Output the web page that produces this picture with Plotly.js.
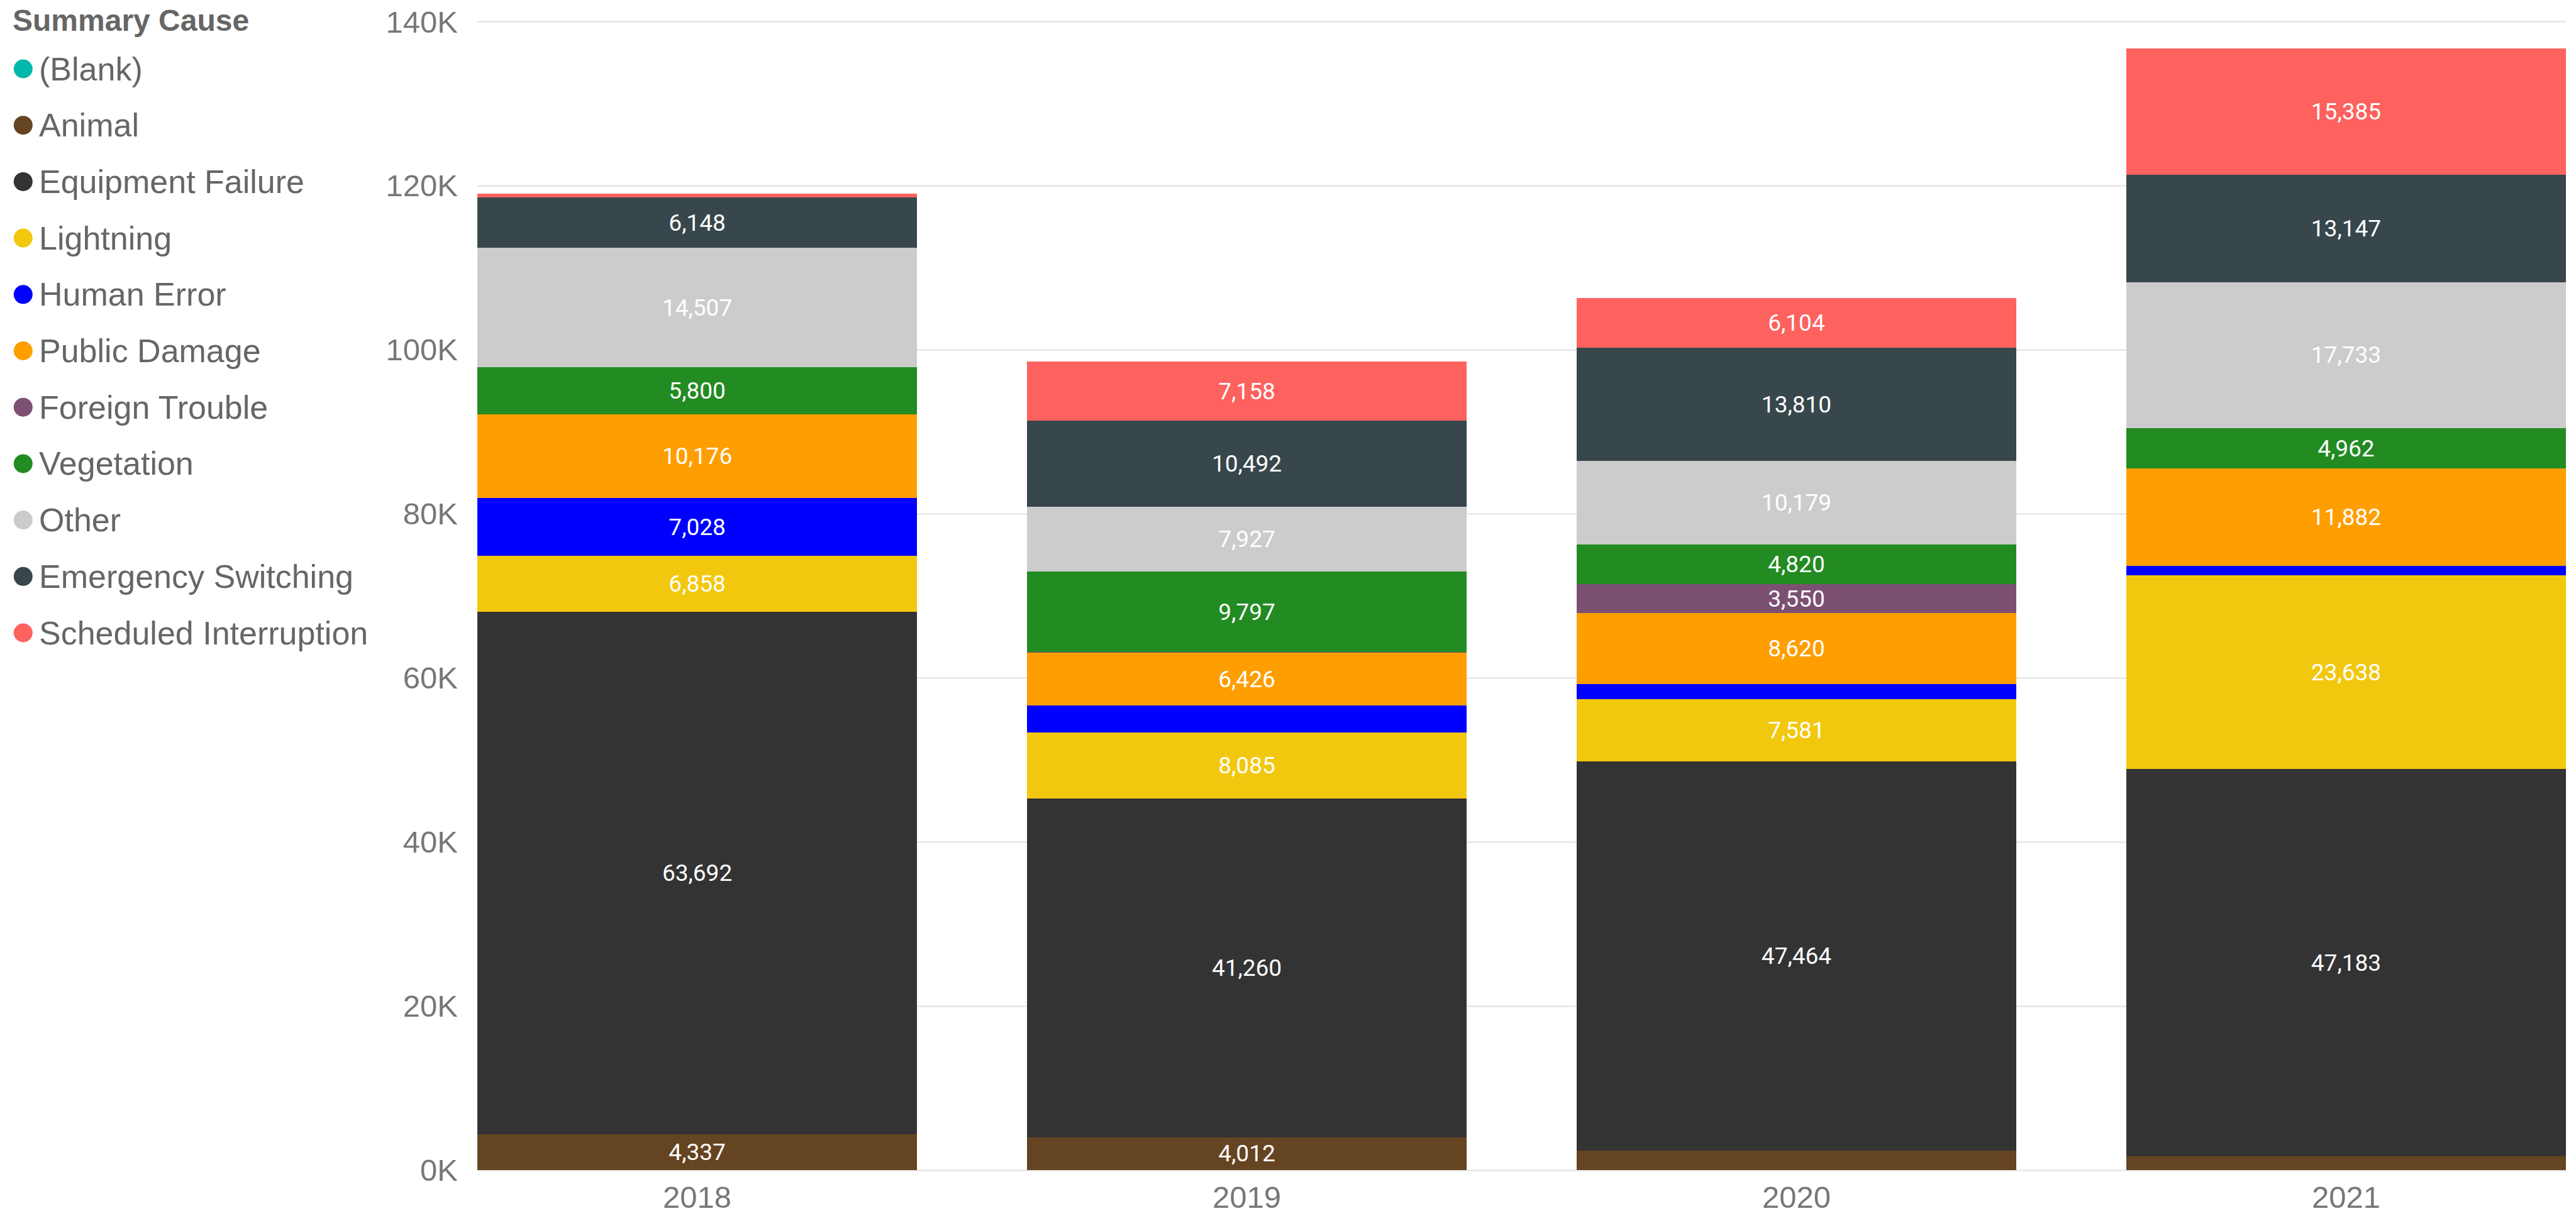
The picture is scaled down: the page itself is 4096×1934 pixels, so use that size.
<!DOCTYPE html>
<html>
<head>
<meta charset="utf-8">
<script src="https://cdn.plot.ly/plotly-3.0.1.min.js"></script>
<style>
html,body{margin:0;padding:0;background:#fff;}
#chart{width:4096px;height:1934px;}
</style>
</head>
<body>
<div id="chart"></div>
<script>
// ---- data ----
const years = ['2018', '2019', '2020', '2021'];
const causes = ['(Blank)', 'Animal', 'Equipment Failure', 'Lightning', 'Human Error', 'Public Damage',
  'Foreign Trouble', 'Vegetation', 'Other', 'Emergency Switching', 'Scheduled Interruption'];
const colors = ['#01B8AA', '#654422', '#333333', '#F2C80F', '#0000FF', '#FF9E00',
  '#7C5073', '#228B22', '#CCCCCC', '#37474B', '#FD625E'];
const blank = [0, 0, 0, 0];
const animal = [4337, 4012, 2370, 1697];
const equipmentFailure = [63692, 41260, 47464, 47183];
const lightning = [6858, 8085, 7581, 23638];
const humanError = [7028, 3273, 1839, 1103];
const publicDamage = [10176, 6426, 8620, 11882];
const foreignTrouble = [0, 100, 3550, 0];
const vegetation = [5800, 9797, 4820, 4962];
const other = [14507, 7927, 10179, 17733];
const emergencySwitching = [6148, 10492, 13810, 13147];
const scheduledInterruption = [480, 7158, 6104, 15385];
const seriesValues = [blank, animal, equipmentFailure, lightning, humanError, publicDamage,
  foreignTrouble, vegetation, other, emergencySwitching, scheduledInterruption];
const yTickVals = [0, 20000, 40000, 60000, 80000, 100000, 120000, 140000];
const yTickText = ['0K', '20K', '40K', '60K', '80K', '100K', '120K', '140K'];
const legendTitle = 'Summary Cause';
const labelMin = 3400; // labels hidden on thin segments, as in the reference

// ---- layout geometry (pixels in the 4096x1934 window) ----
const W = 4096, H = 1934;
const M = {l: 759, r: 16, t: 32, b: 73};
const fmt = v => v.toLocaleString('en-US');

const traces = causes.map((c, i) => ({
  type: 'bar',
  name: c,
  x: years,
  y: seriesValues[i],
  marker: {color: colors[i], line: {width: 0}},
  text: seriesValues[i].map(v => v >= labelMin ? fmt(v) : ''),
  textposition: 'inside',
  insidetextanchor: 'middle',
  textangle: 0,
  constraintext: 'none',
  textfont: {family: 'Roboto, sans-serif', size: 37, color: '#FFFFFF'},
  hoverinfo: 'skip',
  showlegend: false
}));

// custom legend (round markers as in the reference)
const annotations = [];
const shapes = [];
const legX0 = 17.6, markerCX = 36.8, textX = 60, firstY = 109.5, stepY = 89.7, markerR = 15;
annotations.push({
  xref: 'paper', yref: 'paper', x: 0, y: 1, xanchor: 'left', yanchor: 'middle',
  xshift: legX0 - M.l, yshift: M.t - 32.5,
  text: '<b>' + legendTitle + '</b>', showarrow: false,
  font: {family: 'Liberation Sans, Arial, sans-serif', size: 48, color: '#666666'}
});
causes.forEach((c, i) => {
  const cy = firstY + i * stepY;
  annotations.push({
    xref: 'paper', yref: 'paper', x: 0, y: 1, xanchor: 'left', yanchor: 'middle',
    xshift: textX - M.l, yshift: M.t - cy,
    text: c, showarrow: false,
    font: {family: 'Liberation Sans, Arial, sans-serif', size: 52, color: '#666666'}
  });
  shapes.push({
    type: 'circle', xref: 'paper', yref: 'paper', xsizemode: 'pixel', ysizemode: 'pixel',
    xanchor: 0, yanchor: 1,
    x0: markerCX - M.l - markerR, x1: markerCX - M.l + markerR,
    y0: M.t - cy - markerR, y1: M.t - cy + markerR,
    fillcolor: colors[i], line: {width: 0}, layer: 'above'
  });
});

const layout = {
  width: W, height: H,
  margin: M,
  paper_bgcolor: '#FFFFFF', plot_bgcolor: '#FFFFFF',
  barmode: 'stack', bargap: 0.2,
  showlegend: false,
  xaxis: {
    type: 'category', range: [-0.4, 3.4], showgrid: false, zeroline: false, showline: false,
    ticks: '', tickfont: {family: 'Liberation Sans, Arial, sans-serif', size: 49, color: '#777777'},
    ticklabelstandoff: 10
  },
  yaxis: {
    range: [0, 140180], tickvals: yTickVals, ticktext: yTickText,
    showgrid: true, gridcolor: '#EAEAEA', gridwidth: 3,
    zeroline: true, zerolinecolor: '#EAEAEA', zerolinewidth: 3, showline: false,
    ticks: '', tickfont: {family: 'Liberation Sans, Arial, sans-serif', size: 49, color: '#777777'},
    ticklabelstandoff: 30
  },
  annotations: annotations,
  shapes: shapes,
  font: {family: 'Liberation Sans, Arial, sans-serif'}
};
Plotly.newPlot('chart', traces, layout, {staticPlot: true, displayModeBar: false});
</script>
</body>
</html>
